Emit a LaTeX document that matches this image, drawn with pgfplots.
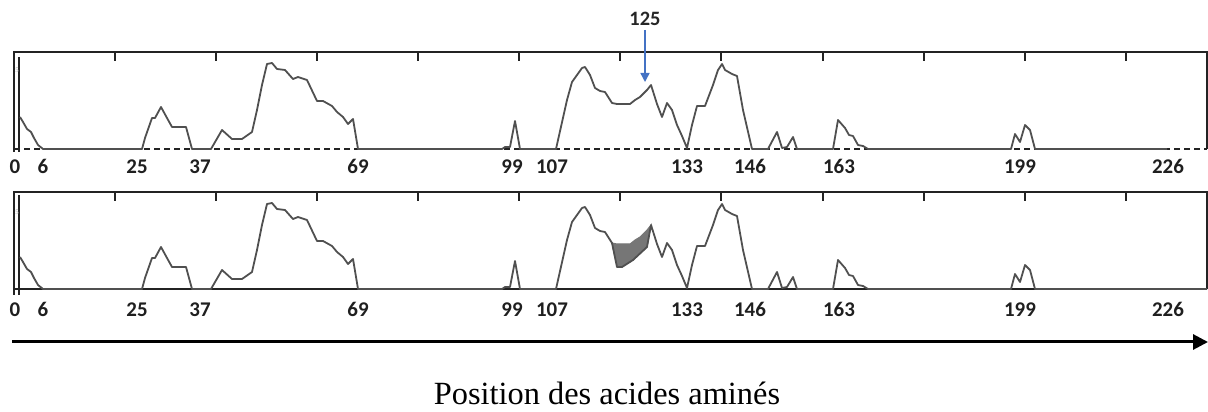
\documentclass[border=0pt]{standalone}
\usepackage{pgfplots}
\pgfplotsset{compat=1.18}
\usepackage{pgfplotstable}
\usetikzlibrary{arrows.meta}
\usepackage{fontspec}
\setmainfont{Liberation Serif}
\newfontfamily\carlito{Carlito}
\definecolor{curve}{RGB}{80,80,80}
\definecolor{frame}{RGB}{35,35,35}
\definecolor{arrowblue}{RGB}{68,114,196}
\definecolor{mutfill}{RGB}{118,118,118}

% wild-type profile (x: position along the sequence axis, y: score)
\pgfplotstableread{
x y
20 32
23 27
27 20
31 17
34 11
38 4
43 0
142 0
145 11
152 31
155 31
161 42
167 31
172 22
180 22
186 22
192 0
211 0
222 19
232 10
242 10
252 17
257 39
262 64
267 85
272 86
277 80
285 79
293 70
298 72
307 69
317 48
323 48
332 43
337 37
343 32
348 25
353 30
358 0
502 0
505 2
510 2
515 28
520 0
556 0
567 49
572 67
577 74
582 81
585 82
590 74
595 61
600 58
605 57
612 46
617 45
630 45
635 49
640 52
647 59
651 64
657 45
662 32
667 46
672 39
677 24
682 13
687 1
692 24
697 43
705 43
713 64
718 79
722 85
725 79
732 75
737 73
743 39
752 0
768 0
777 17
782 1
787 2
793 12
797 0
833 0
838 29
845 21
849 14
853 13
858 4
863 3
868 0
1011 0
1015 15
1020 7
1025 24
1030 19
1035 0
1167 0
}\wildtype

% mutant profile
\pgfplotstableread{
x y
20 32
23 27
27 20
31 17
34 11
38 4
43 0
142 0
145 11
152 31
155 31
161 42
167 31
172 22
180 22
186 22
192 0
211 0
222 19
232 10
242 10
252 17
257 39
262 64
267 85
272 86
277 80
285 79
293 70
298 72
307 69
317 48
323 48
332 43
337 37
343 32
348 25
353 30
358 0
502 0
505 2
510 2
515 28
520 0
556 0
567 49
572 67
577 74
582 81
585 82
590 74
595 61
600 58
605 57
612 46
617 22
622 22
633 29
647 42
651 64
657 45
662 32
667 46
672 39
677 24
682 13
687 1
692 24
697 43
705 43
713 64
718 79
722 85
725 79
732 75
737 73
743 39
752 0
768 0
777 17
782 1
787 2
793 12
797 0
833 0
838 29
845 21
849 14
853 13
858 4
863 3
868 0
1011 0
1015 15
1020 7
1025 24
1030 19
1035 0
1167 0
1207 0
}\mutant

% shaded difference region
\pgfplotstableread{
x y
612 46
617 45
630 45
635 49
640 52
647 59
651 64
647 42
633 29
622 22
617 22
612 46
}\diffregion

\tikzset{frm/.style={frame, line width=1.9bp}}
\pgfplotsset{
  panel/.style={
    scale only axis, width=1193bp, height=97bp,
    xmin=14, xmax=1207, ymin=0, ymax=97, clip=false,
    axis line style={draw=none},
    ytick=\empty,
    xtick={115,216,317,418,519,620,721,823,924,1025,1126},
    xticklabels={,,,,,,,,,,},
    xtick pos=right, xticklabel pos=left,
    xtick align=inside,
    major tick length=9bp,
    every tick/.style={frame, line width=1.6bp},
    extra x ticks={15,43,137,200,358,512,552,687,750,839,1020,1168},
    extra x tick labels={0,6,25,37,69,99,107,133,146,163,199,226},
    extra x tick style={major tick length=0pt},
    xticklabel style={font=\carlito\bfseries\fontsize{21}{21}\selectfont, text=black!88,
      inner sep=0pt, anchor=base},
  },
}

\begin{document}
\begin{tikzpicture}
\path[use as bounding box] (0,0) rectangle (1208bp,412bp);

% top panel
\begin{axis}[panel, at={(14bp,263bp)}, anchor=south west,
  xticklabel style={yshift=-25bp}]
  \draw[frm] (axis cs:14,-3) -- (axis cs:14,97) -- (axis cs:1207,97) -- (axis cs:1207,0);
  \draw[frm] (axis cs:19,-3) -- (axis cs:19,92);
  \draw[frame, line width=1.5bp, dash pattern=on 6bp off 4bp] (axis cs:14,0) -- (axis cs:1207,0);
  \node[font=\fontsize{7}{7}\selectfont, text=gray!60] at (axis cs:17,79) {5};
  \addplot[curve, line width=1.8bp, line join=round] table[x=x,y=y] {\wildtype};
  \draw[arrowblue, line width=1.5bp, -{Triangle[length=9bp,width=9bp]}] (axis cs:645,119) -- (axis cs:645,67);
  \node[anchor=base, font=\carlito\bfseries\fontsize{20.5}{20.5}\selectfont, text=black!85] at (axis cs:645,123) {125};
\end{axis}

% bottom panel
\begin{axis}[panel, at={(14bp,123bp)}, anchor=south west,
  xticklabel style={yshift=-28bp}]
  \draw[frm] (axis cs:14,-6) -- (axis cs:14,97) -- (axis cs:1207,97) -- (axis cs:1207,0);
  \draw[frm] (axis cs:19,-6) -- (axis cs:19,94);
  \draw[frame, line width=1.6bp] (axis cs:14,0) -- (axis cs:1207,0);
  \node[font=\fontsize{7}{7}\selectfont, text=gray!60] at (axis cs:17,77) {5};
  \addplot[mutfill, fill=mutfill, line width=1bp] table[x=x,y=y] {\diffregion} -- cycle;
  \addplot[curve, line width=1.8bp, line join=round] table[x=x,y=y] {\mutant};
\end{axis}

% position arrow and caption
\draw[black, line width=3bp, -{Triangle[length=15bp,width=15bp]}] (12bp,70bp) -- (1208bp,70bp);
\node[anchor=base, font=\fontsize{32.5}{32.5}\selectfont] at (607bp,8bp) {Position des acides aminés};
\end{tikzpicture}
\end{document}
